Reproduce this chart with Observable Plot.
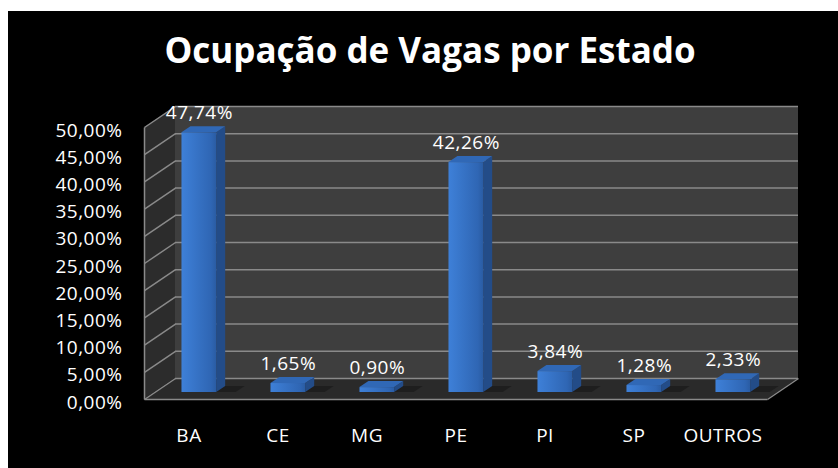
<!DOCTYPE html>
<html><head><meta charset="utf-8">
<script src="https://cdn.jsdelivr.net/npm/d3@7"></script>
<script src="https://cdn.jsdelivr.net/npm/@observablehq/plot@0.6"></script>
<style>
html,body{margin:0;padding:0;background:#fff;width:838px;height:468px;overflow:hidden;}
#panel{position:absolute;left:8px;top:11px;width:830px;height:457px;background:#000;}
#title{position:absolute;left:7px;top:21px;width:830px;text-align:center;font-family:"Open Sans";font-weight:700;font-size:35px;line-height:35px;color:#fff;letter-spacing:0px;white-space:nowrap;}
#chart{position:absolute;left:0;top:81px;}
</style></head><body>
<div id="panel"><div id="title">Ocupação de Vagas por Estado</div><div id="chart"></div></div>
<script>
const categories = ["BA", "CE", "MG", "PE", "PI", "SP", "OUTROS"];
const values = [47.74, 1.65, 0.90, 42.26, 3.84, 1.28, 2.33];
const yTicks = [0, 5, 10, 15, 20, 25, 30, 35, 40, 45, 50];

const fmt = v => v.toFixed(2).replace(".", ",") + "%";

// 3D depth geometry (in scale units)
const DX = 31 / 89, DY = 21 / 5.44;
const X0 = -0.5, X1 = categories.length - 0.5, YMAX = yTicks[yTicks.length - 1];
const tb = 2 / 3, bd = 0.29;
const fx = -tb * DX, fy = -tb * DY, hw = 0.195, bx = bd * DX, by = bd * DY;

const bars = categories.map((c, i) => ({c, i, v: values[i]}));

const leftWall = [
  {id: "lw", x: X0 - DX, y1: -DY, y2: YMAX - DY},
  {id: "lw", x: X0, y1: 0, y2: YMAX}
];
const floor = [
  {id: "fl", y: -DY, x1: X0 - DX, x2: X1 - DX},
  {id: "fl", y: 0, x1: X0, x2: X1}
];
const sides = bars.flatMap(d => [
  {id: d.c, x: d.i + fx + hw, y1: fy, y2: d.v + fy},
  {id: d.c, x: d.i + fx + hw + bx, y1: fy + by, y2: d.v + fy + by}
]);
const tops = bars.flatMap(d => [
  {id: d.c, y: d.v + fy, x1: d.i + fx - hw, x2: d.i + fx + hw},
  {id: d.c, y: d.v + fy + by, x1: d.i + fx - hw + bx, x2: d.i + fx + hw + bx}
]);
const shadows = bars.flatMap(d => [
  {id: d.c, y: fy, x1: d.i + fx + hw - 0.05, x2: d.i + fx + hw + 0.22},
  {id: d.c, y: fy + by, x1: d.i + fx + hw + bx - 0.05, x2: d.i + fx + hw + bx + 0.22}
]);

const grid = "#8a8a8a";
const txt = {fill: "white", fontSize: 19, fontFamily: "Open Sans"};

const svg = Plot.plot({
  width: 830, height: 376,
  marginLeft: 136, marginRight: 40, marginTop: 14, marginBottom: 69,
  x: {type: "linear", domain: [X0 - DX, X1], axis: null},
  y: {domain: [-DY, YMAX], axis: null},
  style: {background: "transparent", letterSpacing: "0.5px"},
  marks: [
    Plot.rect([{}], {x1: () => X0, x2: () => X1, y1: () => 0, y2: () => YMAX, fill: "#3e3e3e"}),
    Plot.areaY(leftWall, {x: "x", y1: "y1", y2: "y2", z: "id", fill: "#2c2c2c"}),
    Plot.areaX(floor, {y: "y", x1: "x1", x2: "x2", z: "id", fill: "#2a2a2a"}),
    Plot.ruleY(yTicks, {y: d => d, x1: () => X0, x2: () => X1, stroke: grid, strokeWidth: 1.5}),
    Plot.link(yTicks, {x1: () => X0, y1: d => d, x2: () => X0 - DX, y2: d => d - DY, stroke: grid, strokeWidth: 1.5}),
    Plot.link([{}], {x1: () => X0 - DX, y1: () => -DY, x2: () => X0 - DX, y2: () => YMAX - DY, stroke: grid, strokeWidth: 1.5}),
    Plot.link([{}], {x1: () => X0 - DX, y1: () => -DY, x2: () => X1 - DX, y2: () => -DY, stroke: grid, strokeWidth: 1.5}),
    Plot.link([{}], {x1: () => X1 - DX, y1: () => -DY, x2: () => X1, y2: () => 0, stroke: grid, strokeWidth: 1.5}),
    Plot.areaX(shadows, {y: "y", x1: "x1", x2: "x2", z: "id", fill: "#1c1c1c", fillOpacity: 0.8}),
    Plot.areaY(sides, {x: "x", y1: "y1", y2: "y2", z: "id", fill: "#234c88"}),
    Plot.areaX(tops, {y: "y", x1: "x1", x2: "x2", z: "id", fill: "#3068b6"}),
    Plot.rect(bars, {x1: d => d.i + fx - hw, x2: d => d.i + fx + hw, y1: () => fy, y2: d => d.v + fy, fill: "url(#barGrad)"}),
    Plot.text(bars, {x: d => d.i + fx, y: d => d.v + fy, dy: -20, text: d => fmt(d.v), ...txt}),
    Plot.text(yTicks, {x: () => X0 - DX, y: d => d - DY, dx: -22, dy: 3, textAnchor: "end", text: d => fmt(d), ...txt}),
    Plot.text(bars, {x: d => d.i - DX, y: () => -DY, dy: 36, text: "c", ...txt})
  ]
});

const defs = d3.select(svg).insert("defs", ":first-child");
const g = defs.append("linearGradient").attr("id", "barGrad").attr("x1", "0").attr("x2", "1").attr("y1", "0").attr("y2", "0");
g.append("stop").attr("offset", "0").attr("stop-color", "#3e80d8");
g.append("stop").attr("offset", "0.85").attr("stop-color", "#2f66b4");
g.append("stop").attr("offset", "1").attr("stop-color", "#2a5ca3");

document.getElementById("chart").appendChild(svg);
</script>
</body></html>
